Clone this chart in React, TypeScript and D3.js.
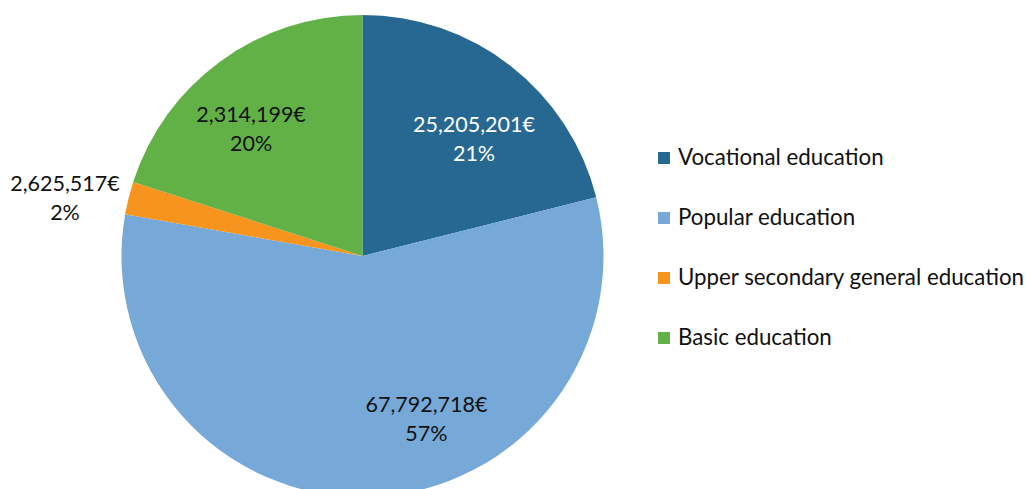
import React from "react";
import * as d3 from "d3";

const categories = [
  "Vocational education",
  "Popular education",
  "Upper secondary general education",
  "Basic education",
];
// slice sizes (Basic education estimated from its 20% slice)
const values = [25205201, 67792718, 2625517, 23950000];
const valueLabels = ["25,205,201€", "67,792,718€", "2,625,517€", "2,314,199€"];
const percentLabels = ["21%", "57%", "2%", "20%"];
const colors = ["#266891", "#76a9d8", "#f7941e", "#62b146"];
const labelColors = ["#ffffff", "#111111", "#111111", "#111111"];
// label placement, polar (degrees clockwise from 12 o'clock, px from centre)
const labelAngles = [43.4, 158.5, 281.3, 318.9];
const labelRadii = [162.3, 174.5, 303.4, 169.5];

const W = 1026;
const H = 489;
const cx = 362.5;
const cy = 256;
const R = 241;
const FONT = "Lato, 'Open Sans', sans-serif";

export default function App() {
  const pie = d3.pie<number>().sort(null).value((d) => d);
  const arcs = pie(values);
  const arc = d3.arc<d3.PieArcDatum<number>>().innerRadius(0).outerRadius(R);

  const legendY = d3.scalePoint<string>().domain(categories).range([158, 338]);

  return (
    <svg
      width={W}
      height={H}
      style={{ position: "absolute", left: 0, top: 0, background: "#fff" }}
      fontFamily={FONT}
    >
      <g transform={`translate(${cx},${cy})`}>
        {arcs.map((a, i) => (
          <path key={i} d={arc(a) || ""} fill={colors[i]} />
        ))}
        {arcs.map((a, i) => {
          const ang = (labelAngles[i] * Math.PI) / 180;
          const x = labelRadii[i] * Math.sin(ang);
          const y = -labelRadii[i] * Math.cos(ang);
          return (
            <text
              key={i}
              textAnchor="middle"
              fill={labelColors[i]}
              fontSize={21.5}
            >
              <tspan x={x} y={y - 6}>
                {valueLabels[i]}
              </tspan>
              <tspan x={x} y={y + 23}>
                {percentLabels[i]}
              </tspan>
            </text>
          );
        })}
      </g>
      <g>
        {categories.map((c, i) => {
          const y = legendY(c) as number;
          return (
            <g key={c}>
              <rect x={658} y={y - 6} width={12} height={12} fill={colors[i]} />
              <text x={678} y={y + 6.5} fontSize={22.3} fill="#111111">
                {c}
              </text>
            </g>
          );
        })}
      </g>
    </svg>
  );
}
